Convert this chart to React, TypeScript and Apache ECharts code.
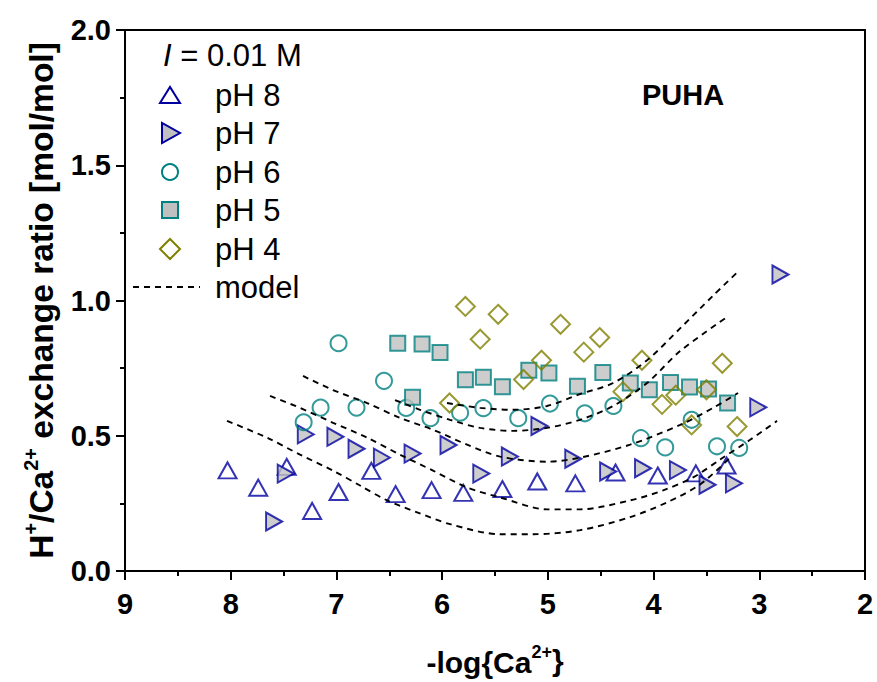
import React, { useEffect, useRef } from "react";
import * as echarts from "echarts";

// ---------- data ----------
const pH8X = [8.03, 7.74, 7.47, 7.23, 6.98, 6.67, 6.44, 6.10, 5.80, 5.43, 5.10, 4.74, 4.36, 3.96, 3.60, 3.31];
const pH8Y = [0.372, 0.308, 0.385, 0.222, 0.292, 0.370, 0.284, 0.299, 0.289, 0.303, 0.331, 0.324, 0.364, 0.353, 0.361, 0.390];

const pH7X = [7.59, 7.48, 7.29, 7.01, 6.81, 6.57, 6.28, 5.94, 5.63, 5.36, 5.08, 4.76, 4.43, 4.10, 3.77, 3.49, 3.24, 3.01, 2.80];
const pH7Y = [0.183, 0.360, 0.505, 0.496, 0.452, 0.419, 0.434, 0.466, 0.360, 0.423, 0.536, 0.415, 0.368, 0.380, 0.373, 0.319, 0.324, 0.605, 1.096];

const pH6X = [7.31, 7.15, 6.98, 6.81, 6.55, 6.34, 6.11, 5.83, 5.61, 5.28, 4.98, 4.65, 4.38, 4.12, 3.89, 3.64, 3.40, 3.19];
const pH6Y = [0.550, 0.604, 0.842, 0.604, 0.703, 0.603, 0.565, 0.585, 0.602, 0.565, 0.619, 0.583, 0.610, 0.491, 0.457, 0.559, 0.461, 0.455];

const pH5X = [6.42, 6.28, 6.19, 6.02, 5.78, 5.61, 5.43, 5.18, 4.99, 4.72, 4.48, 4.22, 4.04, 3.84, 3.66, 3.48, 3.30];
const pH5Y = [0.842, 0.642, 0.839, 0.808, 0.707, 0.716, 0.681, 0.742, 0.732, 0.683, 0.734, 0.695, 0.670, 0.697, 0.680, 0.673, 0.621];

const pH4X = [5.93, 5.78, 5.64, 5.47, 5.23, 5.06, 4.88, 4.66, 4.51, 4.29, 4.11, 3.92, 3.79, 3.64, 3.50, 3.35, 3.21];
const pH4Y = [0.621, 0.978, 0.857, 0.949, 0.708, 0.779, 0.912, 0.809, 0.863, 0.663, 0.779, 0.616, 0.650, 0.540, 0.670, 0.768, 0.534];

// model curves
const model8X = [8.035, 7.657, 7.344, 7.032, 6.777, 6.521, 6.237, 5.925, 5.452, 5.140, 4.695, 4.222, 3.872, 3.560, 3.276];
const model8Y = [0.555, 0.493, 0.430, 0.371, 0.316, 0.261, 0.217, 0.173, 0.136, 0.136, 0.151, 0.199, 0.254, 0.320, 0.419];
const model7X = [7.628, 7.344, 7.032, 6.710, 6.398, 6.086, 5.764, 5.452, 5.008, 4.695, 4.222, 3.910, 3.626, 3.371, 3.087, 2.832];
const model7Y = [0.647, 0.603, 0.548, 0.493, 0.430, 0.371, 0.309, 0.272, 0.228, 0.228, 0.261, 0.298, 0.346, 0.412, 0.485, 0.555];
const model6X = [7.316, 7.032, 6.710, 6.398, 6.086, 5.764, 5.452, 5.008, 4.695, 4.222, 3.749, 3.437, 3.201];
const model6Y = [0.721, 0.669, 0.621, 0.566, 0.522, 0.467, 0.423, 0.404, 0.419, 0.467, 0.540, 0.603, 0.658];
const model5X = [6.446, 6.209, 5.925, 5.641, 5.329, 5.008, 4.695, 4.383, 4.062, 3.749, 3.324];
const model5Y = [0.632, 0.596, 0.559, 0.529, 0.518, 0.529, 0.559, 0.610, 0.695, 0.813, 0.934];
const model4X = [5.954, 5.641, 5.329, 5.008, 4.695, 4.383, 4.062, 3.749, 3.437, 3.201];
const model4Y = [0.621, 0.603, 0.596, 0.610, 0.654, 0.695, 0.779, 0.897, 1.018, 1.107];

const xTicks = [9, 8, 7, 6, 5, 4, 3, 2];
const yTicks = [0.0, 0.5, 1.0, 1.5, 2.0];
const legendNames = ["pH 8", "pH 7", "pH 6", "pH 5", "pH 4", "model"];

const BLUE = "#0000A0";
const TEAL = "#008080";
const OLIVE = "#808000";
const GRAY = "#C0C0C0";
const FONT = "'Liberation Sans', Arial, Helvetica, sans-serif";

const zip = (xs: number[], ys: number[]) => xs.map((x, i) => [x, ys[i]]);

export default function App() {
  const ref = useRef<HTMLDivElement>(null);
  useEffect(() => {
    document.body.style.margin = "0";
    if (!ref.current) return;
    const chart = echarts.init(ref.current, undefined, { renderer: "svg" });
    const open = "rgba(255,255,255,0)";
    const modelLine = (xs: number[], ys: number[], name: string) => ({
      type: "line",
      name,
      data: zip(xs, ys),
      smooth: 0.3,
      showSymbol: false,
      symbol: "none",
      z: 5,
      lineStyle: { color: "#000", width: 1.9, type: [6, 5] },
    });
    const yName = "{b|H}{s|+}{b|/Ca}{s|2+}{b| exchange ratio [mol/mol]}";
    const xName = "{b|-log{Ca}{s|2+}}";
    const richY = {
      b: { fontSize: 33.5, fontWeight: "bold", fontFamily: FONT, lineHeight: 37, verticalAlign: "bottom" },
      s: { fontSize: 20, fontWeight: "bold", fontFamily: FONT, lineHeight: 21, verticalAlign: "top" },
    };
    const richX = {
      b: { fontSize: 30, fontWeight: "bold", fontFamily: FONT, lineHeight: 34, verticalAlign: "bottom" },
      s: { fontSize: 18, fontWeight: "bold", fontFamily: FONT, lineHeight: 20, verticalAlign: "top" },
    };
    const legendY = [95, 133, 172, 210, 249, 287];
    const iconX = 170;
    const textX = 215;
    const option: any = {
      animation: false,
      backgroundColor: "#fff",
      grid: { left: 125, right: 12, top: 30, bottom: 108, show: true, borderColor: "#000", borderWidth: 2, backgroundColor: "transparent" },
      xAxis: {
        type: "value",
        min: 2,
        max: 9,
        interval: 1,
        inverse: true,
        name: xName,
        nameLocation: "middle",
        nameGap: 72,
        nameTextStyle: { fontSize: 30, fontWeight: "bold", fontFamily: FONT, color: "#000", rich: richX },
        axisLine: { show: true, onZero: false, lineStyle: { color: "#000", width: 2 } },
        axisTick: { show: true, inside: false, length: 9, lineStyle: { color: "#000", width: 2 } },
        minorTick: { show: true, splitNumber: 2, length: 5, lineStyle: { color: "#000", width: 2 } },
        splitLine: { show: false },
        axisLabel: {
          fontSize: 29, fontWeight: "bold", fontFamily: FONT, color: "#000", margin: 18,
          formatter: (v: number) => (xTicks.includes(v) ? String(v) : ""),
        },
      },
      yAxis: {
        type: "value",
        min: 0,
        max: 2,
        interval: 0.5,
        name: yName,
        nameLocation: "middle",
        nameGap: 67,
        nameTextStyle: { fontSize: 33.5, fontWeight: "bold", fontFamily: FONT, color: "#000", rich: richY },
        axisLine: { show: true, onZero: false, lineStyle: { color: "#000", width: 2 } },
        axisTick: { show: true, inside: false, length: 9, lineStyle: { color: "#000", width: 2 } },
        minorTick: { show: true, splitNumber: 2, length: 5, lineStyle: { color: "#000", width: 2 } },
        splitLine: { show: false },
        axisLabel: {
          fontSize: 29, fontWeight: "bold", fontFamily: FONT, color: "#000", margin: 14,
          formatter: (v: number) => (yTicks.some((t) => Math.abs(t - v) < 1e-9) ? v.toFixed(1) : ""),
        },
      },
      series: [
        {
          type: "scatter", name: legendNames[0], data: zip(pH8X, pH8Y), symbol: "triangle", symbolSize: [18, 16], z: 3,
          itemStyle: { color: open, borderColor: BLUE, borderWidth: 2 },
        },
        {
          type: "scatter", name: legendNames[1], data: zip(pH7X, pH7Y), symbol: "triangle", symbolSize: [18, 16], symbolRotate: -90, z: 3,
          itemStyle: { color: GRAY, borderColor: BLUE, borderWidth: 2 },
        },
        {
          type: "scatter", name: legendNames[2], data: zip(pH6X, pH6Y), symbol: "circle", symbolSize: 16, z: 3,
          itemStyle: { color: open, borderColor: TEAL, borderWidth: 2 },
        },
        {
          type: "scatter", name: legendNames[3], data: zip(pH5X, pH5Y), symbol: "rect", symbolSize: 15, z: 3,
          itemStyle: { color: GRAY, borderColor: TEAL, borderWidth: 2 },
        },
        {
          type: "scatter", name: legendNames[4], data: zip(pH4X, pH4Y), symbol: "diamond", symbolSize: 19, z: 3,
          itemStyle: { color: open, borderColor: OLIVE, borderWidth: 2 },
        },
        modelLine(model8X, model8Y, "model pH 8"),
        modelLine(model7X, model7Y, "model pH 7"),
        modelLine(model6X, model6Y, "model pH 6"),
        modelLine(model5X, model5Y, "model pH 5"),
        modelLine(model4X, model4Y, "model pH 4"),
      ],
      graphic: [
        {
          type: "text", x: 163, y: 55,
          style: {
            text: "{i|I} = 0.01 M", fontSize: 31, fontFamily: FONT, fill: "#000", verticalAlign: "middle",
            rich: { i: { fontStyle: "italic", fontSize: 31, fontFamily: FONT } },
          },
        },
        {
          type: "polygon", shape: { points: [[iconX - 10, legendY[0] + 8], [iconX + 10, legendY[0] + 8], [iconX, legendY[0] - 8]] },
          style: { fill: "none", stroke: BLUE, lineWidth: 2 },
        },
        {
          type: "polygon", shape: { points: [[iconX - 8, legendY[1] - 10], [iconX - 8, legendY[1] + 10], [iconX + 10, legendY[1]]] },
          style: { fill: GRAY, stroke: BLUE, lineWidth: 2 },
        },
        { type: "circle", shape: { cx: iconX, cy: legendY[2], r: 8 }, style: { fill: "none", stroke: TEAL, lineWidth: 2 } },
        { type: "rect", shape: { x: iconX - 8, y: legendY[3] - 8, width: 16, height: 16 }, style: { fill: GRAY, stroke: TEAL, lineWidth: 2 } },
        {
          type: "polygon", shape: { points: [[iconX - 10, legendY[4]], [iconX, legendY[4] - 10], [iconX + 10, legendY[4]], [iconX, legendY[4] + 10]] },
          style: { fill: "none", stroke: OLIVE, lineWidth: 2 },
        },
        { type: "line", shape: { x1: 133, y1: legendY[5], x2: 200, y2: legendY[5] }, style: { stroke: "#000", lineWidth: 1.9, lineDash: [6, 5] } },
        ...legendNames.map((n, i) => ({
          type: "text", x: textX, y: legendY[i],
          style: { text: n, fontSize: 31, fontFamily: FONT, fill: "#000", verticalAlign: "middle" },
        })),
        {
          type: "text", x: 683, y: 95,
          style: { text: "PUHA", fontSize: 29, fontWeight: "bold", fontFamily: FONT, fill: "#000", align: "center", verticalAlign: "middle" },
        },
      ],
    };
    chart.setOption(option);
    return () => chart.dispose();
  }, []);
  return <div ref={ref} style={{ width: 877, height: 682 }} />;
}
